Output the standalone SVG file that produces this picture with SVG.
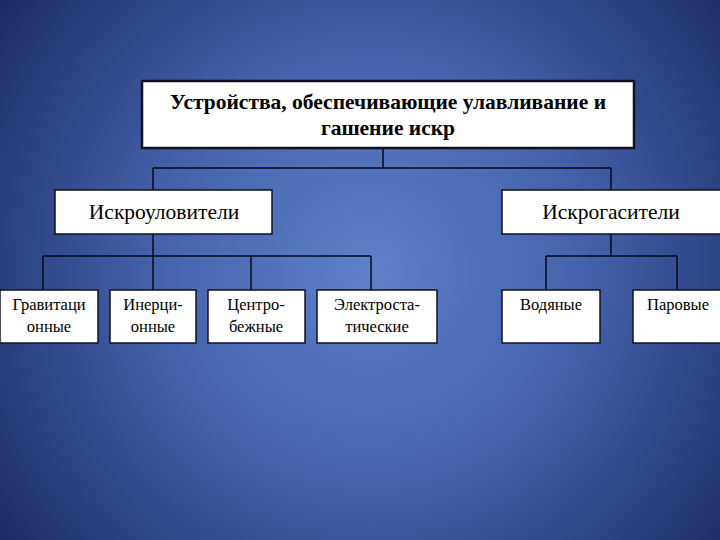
<svg xmlns="http://www.w3.org/2000/svg" width="720" height="540" viewBox="0 0 720 540">
<defs>
<radialGradient id="bg" cx="370" cy="270" r="470" gradientUnits="userSpaceOnUse">
<stop offset="0" stop-color="#5e81c9"/>
<stop offset="0.45" stop-color="#4463ac"/>
<stop offset="1" stop-color="#1a2862"/>
</radialGradient>
</defs>
<style>
.box{fill:#fff;stroke:#101020;stroke-width:1.5}
.main{fill:#fff;stroke:#101020;stroke-width:2.5}
.t{font-family:"Liberation Serif","Times New Roman",serif;fill:#000;text-anchor:middle}
.h{font-size:21.5px;font-weight:bold}
.m{font-size:21.5px}
.s{font-size:16.5px}
.c{stroke:#0a0a18;stroke-width:1.5;fill:none}
</style>
<rect x="0" y="0" width="720" height="540" fill="url(#bg)"/>
<g id="connectors">
<path class="c" d="M383 148V168M153 168H611M153 168V190M611 168V190"/>
<path class="c" d="M153 234V256M43 256H371M43 256V290M153 256V290M251 256V290M371 256V290"/>
<path class="c" d="M611 234V256M546 256H677M546 256V290M677 256V290"/>
</g>
<g id="root">
<rect class="main" x="142" y="81" width="492" height="67"/>
<text class="t h" x="388" y="109">Устройства, обеспечивающие улавливание и</text>
<text class="t h" x="388" y="135">гашение искр</text>
</g>
<g id="iskrouloviteli">
<rect class="box" x="55" y="190" width="217" height="44"/>
<text class="t m" x="164" y="219">Искроуловители</text>
</g>
<g id="iskrogasiteli">
<rect class="box" x="502" y="190" width="230" height="44"/>
<text class="t m" x="611" y="219">Искрогасители</text>
</g>
<g id="grav">
<rect class="box" x="0" y="290" width="98" height="53"/>
<text class="t s" x="49" y="310">Гравитаци</text>
<text class="t s" x="49" y="332">онные</text>
</g>
<g id="inerc">
<rect class="box" x="110" y="290" width="86" height="53"/>
<text class="t s" x="153" y="310">Инерци-</text>
<text class="t s" x="153" y="332">онные</text>
</g>
<g id="centr">
<rect class="box" x="208" y="290" width="97" height="53"/>
<text class="t s" x="256" y="310">Центро-</text>
<text class="t s" x="256" y="332">бежные</text>
</g>
<g id="electro">
<rect class="box" x="317" y="290" width="120" height="53"/>
<text class="t s" x="377" y="310">Электроста-</text>
<text class="t s" x="377" y="332">тические</text>
</g>
<g id="vodyanye">
<rect class="box" x="502" y="290" width="98" height="53"/>
<text class="t s" x="551" y="310">Водяные</text>
</g>
<g id="parovye">
<rect class="box" x="633" y="290" width="95" height="53"/>
<text class="t s" x="678" y="310">Паровые</text>
</g>
</svg>
